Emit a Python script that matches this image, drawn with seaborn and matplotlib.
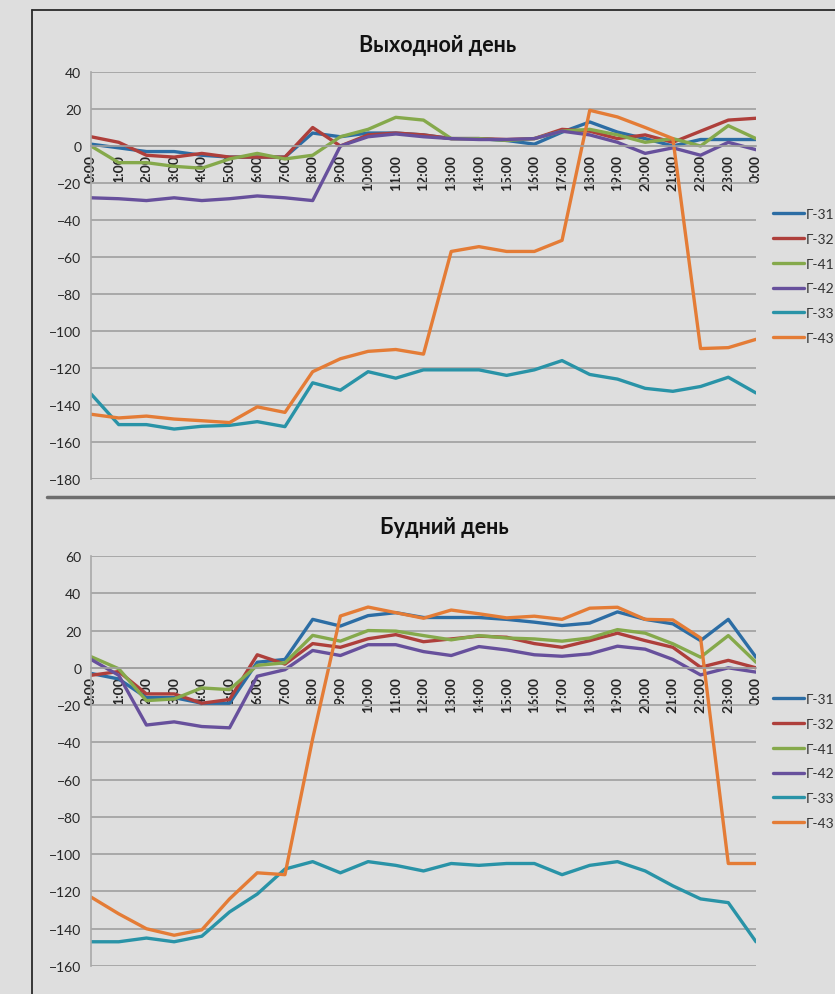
import numpy as np
import pandas as pd
import matplotlib
matplotlib.use("Agg")
import matplotlib.pyplot as plt
from matplotlib.lines import Line2D
import seaborn as sns

# Hourly time labels, 0:00 through the following 0:00
hours = [f"{h}:00" for h in range(24)] + ["0:00"]
series = ["Г-31", "Г-32", "Г-41", "Г-42", "Г-33", "Г-43"]

# Day off ("Выходной день")
off_g31 = [1, -1, -3, -3, -5, -6, -6, -6, 7, 5, 7, 7, 6, 4, 4, 3, 1, 7.5, 13, 7.5, 4, 0, 3.5, 3.5, 3.5]
off_g32 = [5, 2, -5, -6, -4, -6, -6, -6, 10, 0, 6, 7, 6, 4, 4, 3.5, 4, 9, 8, 4, 6, 2, 8, 14, 15]
off_g41 = [0, -9, -9, -11, -12, -7, -4, -7, -5, 5, 9, 15.5, 14, 4, 4, 3, 4, 8, 9, 6, 2, 4, 0, 11, 4]
off_g42 = [-28, -28.5, -29.5, -28, -29.5, -28.5, -27, -28, -29.5, 0, 5, 6.5, 5, 4, 3.5, 3.5, 4, 8, 6, 2, -4, -1, -5, 2, -2]
off_g33 = [-134, -150.6, -150.6, -153, -151.5, -151, -149, -151.7, -128, -132, -122, -125.5, -121, -121, -121, -124,
           -121, -116, -123.5, -126, -131, -132.6, -130, -125, -133.5]
off_g43 = [-145, -147, -146, -147.6, -148.5, -149.5, -141, -144, -122, -115, -111, -110, -112.5, -57, -54.4, -57,
           -57, -51, 19.3, 15.7, 10, 4, -109.5, -109, -104.5]

# Working day ("Будний день")
work_g31 = [-3, -6, -16, -16, -19, -19, 3, 4.5, 26, 22.4, 28, 29.6, 27, 27, 27, 26, 24.5, 22.7, 24, 30, 26, 23.6,
            14.6, 26, 5.7]
work_g32 = [-4, -2, -14, -14, -19, -17, 7, 2, 13, 11, 15.6, 17.8, 14, 15.5, 17, 16.4, 13, 11, 14.6, 18.6, 14.6, 11,
            0.3, 4, 0]
work_g41 = [6, -0.5, -17.6, -16.7, -10.8, -11.7, 1.3, 2.7, 17.4, 14.3, 20, 19.7, 17.3, 15, 17.3, 16, 15.5, 14.3, 16,
            20.5, 18.6, 12.9, 5.7, 17.3, 3]
work_g42 = [4.5, -4, -30.7, -29, -31.5, -32.2, -4.5, -1, 9.3, 6.6, 12.4, 12.4, 8.7, 6.6, 11.4, 9.6, 7, 6.2, 7.5,
            11.6, 10, 4.5, -3.8, 0, -2.3]
work_g33 = [-147, -147, -145, -147, -144, -131, -121.4, -108, -104, -110, -104, -106, -109, -105, -106, -105, -105,
            -111, -106, -104, -109, -117, -124, -126, -147]
work_g43 = [-123, -132, -140, -143.5, -140.6, -124, -110, -111, -38, 27.8, 32.6, 29.6, 26.6, 31, 29, 26.8, 27.7, 26,
            32, 32.5, 26, 25.7, 16, -105, -105]

palette = {
    "Г-31": "#2C6DA4",
    "Г-32": "#AE3F3B",
    "Г-41": "#85A94B",
    "Г-42": "#67509C",
    "Г-33": "#2993A7",
    "Г-43": "#E47C36",
}


def long_frame(values):
    rows = []
    for name, vals in zip(series, values):
        for i, v in enumerate(vals):
            rows.append({"pos": i, "value": v, "series": name})
    return pd.DataFrame(rows)


off_df = long_frame([off_g31, off_g32, off_g41, off_g42, off_g33, off_g43])
work_df = long_frame([work_g31, work_g32, work_g41, work_g42, work_g33, work_g43])

sns.set_style("white")
plt.rcParams["font.family"] = ["Lato", "DejaVu Sans"]

bg = "#DEDEDE"
W, H = 835, 995
fig = plt.figure(figsize=(W / 100, H / 100), dpi=100, facecolor=bg)


def px_axes(left, top, right, bottom):
    return fig.add_axes([left / W, 1 - bottom / H, (right - left) / W, (bottom - top) / H])


def draw_panel(ax, df, ymin, ymax, title, title_xy, legend_y):
    sns.lineplot(data=df, x="pos", y="value", hue="series", hue_order=series, palette=palette,
                 linewidth=2.4, ax=ax, legend=True)
    ax.set_facecolor("none")
    for s in ("top", "right"):
        ax.spines[s].set_visible(False)
    # the category axis crosses the value axis at zero
    ax.spines["bottom"].set_position(("data", 0))
    ax.spines["bottom"].set_color("#A0A0A0")
    ax.spines["bottom"].set_linewidth(1.2)
    ax.spines["left"].set_color("#A8A8A8")
    ax.spines["left"].set_linewidth(1.2)
    ax.set_xlim(0, len(hours) - 1)
    ax.set_ylim(ymin, ymax)
    ax.set_xlabel("")
    ax.set_ylabel("")
    ax.set_yticks(np.arange(ymin, ymax + 1, 20))
    ax.set_xticks(range(len(hours)))
    ax.set_xticklabels(hours)
    for lbl in ax.get_xticklabels():
        lbl.set_rotation(90)
        lbl.set_fontsize(10)
        lbl.set_fontweight("bold")
        lbl.set_color("#262626")
    ax.tick_params(axis="y", labelsize=10, labelcolor="#262626", length=4, width=1, color="#A0A0A0",
                   direction="out", pad=3)
    ax.tick_params(axis="x", length=4, width=1, color="#A0A0A0", direction="out", pad=2)
    ax.yaxis.grid(True, color="#A4A4A4", linewidth=1.3)
    ax.xaxis.grid(False)
    ax.set_axisbelow(True)
    fig.text(title_xy[0] / W, 1 - title_xy[1] / H, title, ha="center", va="center",
             fontsize=15.5, fontweight="bold", color="#111111")
    handles, labels = ax.get_legend_handles_labels()
    ax.legend(handles, labels, loc="center left", bbox_to_anchor=(773 / W, 1 - legend_y / H),
              bbox_transform=fig.transFigure, frameon=False, fontsize=10, handlelength=2.2,
              handletextpad=0.15, labelspacing=0.92, borderaxespad=0, borderpad=0)
    for txt in ax.get_legend().get_texts():
        txt.set_color("#333333")


ax1 = px_axes(91, 73, 756, 480)
draw_panel(ax1, off_df, -180, 40, "Выходной день", (438, 45), 277)

ax2 = px_axes(91, 557, 756, 967)
draw_panel(ax2, work_df, -160, 60, "Будний день", (444, 527), 762)

# Outer frame and separator between the two charts
fig.add_artist(Line2D([32 / W, 32 / W], [0, 1 - 11 / H], transform=fig.transFigure, color="#2A2A2A", lw=1.3))
fig.add_artist(Line2D([32 / W, 1], [1 - 11 / H, 1 - 11 / H], transform=fig.transFigure, color="#2A2A2A", lw=1.3))
fig.add_artist(Line2D([47 / W, 1], [1 - 498 / H, 1 - 498 / H], transform=fig.transFigure, color="#6E6E6E", lw=2.5))

fig.savefig("out.png", dpi=100, facecolor=bg)
